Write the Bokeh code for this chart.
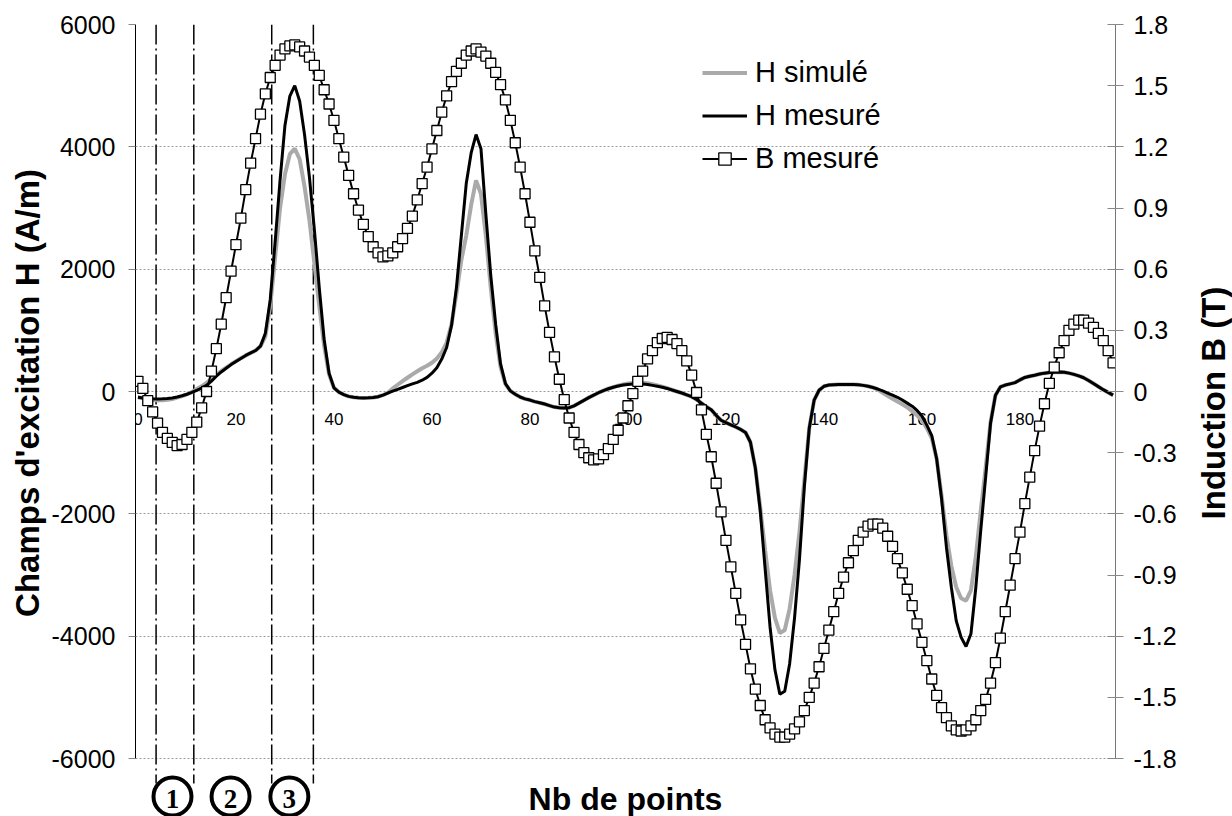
import math
from bokeh.plotting import figure
from bokeh.layouts import row
from bokeh.models import Range1d, LinearAxis, FixedTicker, Legend, LegendItem
from bokeh.core.properties import value
from bokeh.embed import file_html
from bokeh.resources import INLINE

# ---------------- data ----------------
points = list(range(200))

h_mesure = [
    -95, -105, -115, -120, -122, -120, -115, -105, -90, -70,
    -45, -15, 20, 55, 100, 170, 250, 320, 380, 440,
    490, 540, 590, 630, 670, 740, 950, 1500, 2450, 3450,
    4350, 4830, 5000, 4750, 4200, 3500, 2650, 1700, 850, 300,
    60, -10, -50, -80, -95, -103, -105, -103, -98, -85,
    -60, -25, 5, 35, 65, 95, 125, 150, 185, 230,
    300, 390, 530, 720, 1080, 1700, 2550, 3400, 3900, 4200,
    3970, 2900, 1900, 1100, 450, 130, 10, -45, -90, -120,
    -140, -165, -185, -205, -230, -255, -265, -270, -265, -235,
    -190, -145, -100, -60, -20, 15, 45, 70, 90, 105,
    115, 122, 125, 122, 115, 100, 85, 70, 50, 25,
    0, -25, -55, -85, -130, -190, -250, -300, -390, -470,
    -510, -545, -580, -620, -670, -830, -1250, -1950, -2900, -3850,
    -4550, -4950, -4900, -4450, -3700, -2750, -1560, -600, -140, 20,
    85, 105, 112, 115, 115, 115, 114, 110, 100, 85,
    65, 40, 10, -25, -60, -95, -140, -190, -240, -310,
    -400, -550, -720, -1100, -1750, -2550, -3200, -3750, -4020, -4170,
    -3960, -3200, -2270, -1400, -520, -60, 75, 105, 125, 145,
    190, 230, 250, 265, 285, 300, 310, 315, 318, 315,
    300, 280, 255, 225, 180, 130, 80, 30, -15, -60,
]

h_simule = [
    -95, -110, -130, -140, -145, -142, -135, -122, -100, -75,
    -45, -10, 40, 85, 140, 210, 275, 335, 390, 445,
    495, 545, 590, 630, 670, 740, 900, 1400, 2200, 3000,
    3550, 3880, 3970, 3800, 3350, 2800, 2100, 1400, 750, 280,
    60, -10, -50, -80, -95, -103, -105, -103, -98, -85,
    -60, -20, 50, 110, 170, 225, 280, 330, 380, 420,
    470, 540, 640, 800, 1100, 1600, 2150, 2550, 3050, 3450,
    3230, 2550, 1700, 950, 400, 120, 10, -45, -90, -120,
    -140, -165, -185, -205, -230, -255, -265, -270, -265, -235,
    -190, -145, -100, -60, -20, 15, 45, 70, 95, 115,
    130, 140, 145, 142, 135, 120, 100, 80, 55, 25,
    0, -25, -55, -85, -130, -190, -250, -300, -390, -470,
    -510, -545, -580, -620, -670, -830, -1250, -1900, -2600, -3250,
    -3700, -3950, -3900, -3550, -3000, -2300, -1450, -600, -140, 20,
    85, 105, 112, 115, 115, 115, 114, 110, 100, 85,
    65, 30, -20, -70, -120, -165, -210, -260, -320, -390,
    -470, -600, -760, -1100, -1700, -2350, -2850, -3200, -3380, -3420,
    -3250, -2700, -1950, -1250, -500, -60, 75, 105, 125, 145,
    190, 230, 250, 265, 285, 300, 310, 315, 318, 315,
    300, 280, 255, 225, 180, 130, 80, 30, -15, -60,
]

b_mesure = [
    0.05, 0.015, -0.045, -0.10, -0.155, -0.20, -0.23, -0.25, -0.265, -0.26,
    -0.235, -0.20, -0.15, -0.08, 0.00, 0.10, 0.21, 0.33, 0.46, 0.59,
    0.72, 0.85, 0.99, 1.12, 1.24, 1.36, 1.46, 1.54, 1.60, 1.65,
    1.68, 1.695, 1.70, 1.69, 1.67, 1.64, 1.60, 1.55, 1.48, 1.41,
    1.33, 1.24, 1.15, 1.06, 0.97, 0.89, 0.82, 0.76, 0.71, 0.68,
    0.66, 0.665, 0.68, 0.71, 0.75, 0.80, 0.86, 0.94, 1.02, 1.10,
    1.19, 1.28, 1.37, 1.45, 1.52, 1.57, 1.61, 1.65, 1.67, 1.68,
    1.665, 1.645, 1.61, 1.565, 1.505, 1.43, 1.33, 1.22, 1.10, 0.97,
    0.83, 0.69, 0.56, 0.42, 0.29, 0.17, 0.06, -0.04, -0.13, -0.20,
    -0.26, -0.30, -0.325, -0.335, -0.33, -0.31, -0.28, -0.235, -0.19, -0.13,
    -0.07, -0.01, 0.05, 0.10, 0.16, 0.20, 0.24, 0.26, 0.265, 0.255,
    0.235, 0.20, 0.15, 0.08, -0.005, -0.09, -0.21, -0.32, -0.45, -0.59,
    -0.73, -0.86, -0.99, -1.12, -1.24, -1.36, -1.46, -1.54, -1.61, -1.65,
    -1.68, -1.695, -1.695, -1.68, -1.655, -1.62, -1.565, -1.50, -1.43, -1.35,
    -1.26, -1.17, -1.08, -0.99, -0.91, -0.84, -0.78, -0.73, -0.69, -0.66,
    -0.65, -0.65, -0.67, -0.71, -0.76, -0.82, -0.89, -0.97, -1.05, -1.14,
    -1.23, -1.32, -1.41, -1.49, -1.55, -1.60, -1.64, -1.66, -1.665, -1.66,
    -1.64, -1.61, -1.565, -1.51, -1.43, -1.33, -1.21, -1.08, -0.95, -0.82,
    -0.69, -0.55, -0.42, -0.29, -0.17, -0.06, 0.04, 0.12, 0.19, 0.25,
    0.30, 0.33, 0.35, 0.35, 0.335, 0.315, 0.285, 0.25, 0.20, 0.14,
]

h_ticks = [-6000, -4000, -2000, 0, 2000, 4000, 6000]
b_ticks = [-1.8, -1.5, -1.2, -0.9, -0.6, -0.3, 0, 0.3, 0.6, 0.9, 1.2, 1.5, 1.8]
x_ticks = [0, 20, 40, 60, 80, 100, 120, 140, 160, 180]

zone_bounds = [3.7, 11.4, 27.3, 35.8]
zone_labels = ["1", "2", "3"]
zone_label_x = [7.05, 18.9, 30.9]

# ---------------- layout ----------------
FONT = "Liberation Sans"
SERIF = "Liberation Serif"
W_TOTAL, HGT = 1232, 816
TITLE_W = 38                       # strip on the right holding the B-axis title
W = W_TOTAL - TITLE_W
FRAME_LEFT, FRAME_TOP, FRAME_W = 135, 24, 980
PX_PER_UNIT = 734 / 12000.0
h_top = h_ticks[-1]
h_bottom = h_top - (HGT - FRAME_TOP) / PX_PER_UNIT
b_per_h = b_ticks[-1] / h_ticks[-1]
NBSP = "\u00a0"


def h_at_px_below(px):
    # value located px pixels below the -6000 line
    return h_ticks[0] - px / PX_PER_UNIT


p = figure(width=W, height=HGT,
           x_range=Range1d(-0.5, len(points) - 0.5),
           y_range=Range1d(h_bottom, h_top),
           output_backend="svg", toolbar_location=None,
           x_axis_location=None,
           min_border_left=FRAME_LEFT, min_border_right=W - FRAME_LEFT - FRAME_W,
           min_border_top=FRAME_TOP, min_border_bottom=0)
p.outline_line_color = None
p.background_fill_color = "white"
p.border_fill_color = "white"
p.extra_y_ranges = {"b": Range1d(h_bottom * b_per_h, b_ticks[-1])}

# grid
p.xgrid.visible = False
p.ygrid.ticker = FixedTicker(ticks=h_ticks)
p.ygrid.grid_line_color = "#9a9a9a"
p.ygrid.grid_line_dash = "2 2"
p.ygrid.grid_line_width = 1

# left axis
ax = p.yaxis[0]
ax.ticker = FixedTicker(ticks=h_ticks)
ax.bounds = (h_ticks[0], h_ticks[-1])
ax.major_label_overrides = {t: str(t) for t in h_ticks}
ax.axis_line_color = "black"
ax.axis_line_width = 1
ax.major_tick_line_color = "#888888"
ax.major_tick_out = 7
ax.major_tick_in = 0
ax.minor_tick_line_color = None
ax.major_label_standoff = 13
ax.major_label_text_font = FONT
ax.major_label_text_font_size = "25px"
ax.major_label_text_color = "black"
# leading no-break spaces lift the title so it is centred on the -6000..6000 span
ax.axis_label = NBSP * 6 + "Champs d'excitation H (A/m)"
ax.axis_label_text_font = FONT
ax.axis_label_text_font_style = "bold"
ax.axis_label_text_font_size = "33px"
ax.axis_label_text_color = "black"
ax.axis_label_standoff = 3

# right axis (title drawn in the strip to its right)
bx = LinearAxis(y_range_name="b", ticker=FixedTicker(ticks=b_ticks),
                bounds=(b_ticks[0], b_ticks[-1]))
bx.major_label_overrides = {t: f"{t:g}" for t in b_ticks}
bx.axis_line_color = "#777777"
bx.axis_line_width = 1
bx.major_tick_line_color = "#888888"
bx.major_tick_out = 8
bx.major_tick_in = 8
bx.minor_tick_line_color = None
bx.major_label_standoff = 10
bx.major_label_text_font = FONT
bx.major_label_text_font_size = "25px"
bx.major_label_text_color = "black"
p.add_layout(bx, "right")

# x tick labels sitting on the zero line
p.text(x=x_ticks, y=[0] * len(x_ticks), text=[str(t) for t in x_ticks],
       text_font=value(FONT), text_font_size="17px", text_color="black",
       text_align="center", text_baseline="middle", y_offset=27)

# zone separators (dash-dot)
zone_end = h_at_px_below(25)
p.segment(x0=zone_bounds, x1=zone_bounds, y0=[h_top] * len(zone_bounds),
          y1=[zone_end] * len(zone_bounds), line_color="black", line_width=1.5,
          line_dash="20 4 2 4")

# curves
r_gray = p.line(points, h_simule, line_color="#aaaaaa", line_width=4)
r_black = p.line(points, h_mesure, line_color="black", line_width=3)
r_bl = p.line(points, b_mesure, y_range_name="b", line_color="black", line_width=2)
r_bm = p.scatter(points, b_mesure, y_range_name="b", marker="square", size=10,
                 fill_color="white", line_color="black", line_width=1.3)

# circled zone numbers
circ_y = h_at_px_below(38)
p.scatter(x=zone_label_x, y=[circ_y] * len(zone_label_x), marker="circle", size=38,
          fill_color="white", line_color="black", line_width=4)
p.text(x=zone_label_x, y=[circ_y] * len(zone_label_x), text=zone_labels,
       text_font=value(SERIF), text_font_style="bold", text_font_size="27px",
       text_color="black", text_align="center", text_baseline="middle", y_offset=2)

# x axis title
p.text(x=[(len(points) - 1) / 2.0], y=[h_at_px_below(40)], text=["Nb de points"],
       text_font=value(FONT), text_font_style="bold", text_font_size="32px",
       text_color="black", text_align="center", text_baseline="middle")

# legend
legend = Legend(items=[LegendItem(label="H simulé", renderers=[r_gray]),
                       LegendItem(label="H mesuré", renderers=[r_black]),
                       LegendItem(label="B mesuré", renderers=[r_bl, r_bm])],
                location=(567, 641), orientation="vertical",
                label_text_font=FONT, label_text_font_size="29px", label_text_color="black",
                glyph_width=45, glyph_height=31, label_height=31, spacing=10,
                padding=0, margin=0, label_standoff=8,
                border_line_color=None, background_fill_alpha=0)
p.add_layout(legend)

# right-hand strip carrying the "Induction B (T)" title, reading bottom to top
p2 = figure(width=TITLE_W, height=HGT,
            x_range=Range1d(0, 1),
            y_range=Range1d(h_bottom, h_top + FRAME_TOP / PX_PER_UNIT),
            output_backend="svg", toolbar_location=None,
            x_axis_location=None, y_axis_location=None,
            min_border_left=0, min_border_right=0, min_border_top=0, min_border_bottom=0)
p2.outline_line_color = None
p2.grid.visible = False
p2.background_fill_color = "white"
p2.border_fill_color = "white"
p2.text(x=[0.5], y=[0], text=["Induction B (T)"], angle=math.pi / 2,
        text_font=value(FONT), text_font_style="bold", text_font_size="33px",
        text_color="black", text_align="center", text_baseline="middle", y_offset=-1)

layout = row(p, p2, spacing=0)

open("out.html", "w").write(file_html(layout, INLINE))
